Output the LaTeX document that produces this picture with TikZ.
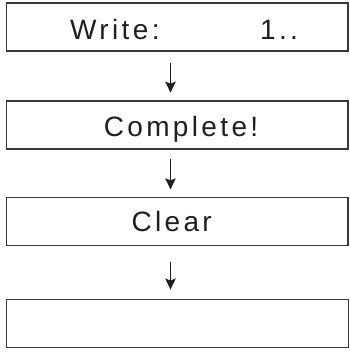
\documentclass[tikz,border=0pt]{standalone}
\usepackage{fontspec}
\setmainfont{Liberation Sans}[LetterSpace=12]
\usetikzlibrary{arrows.meta}
\tikzset{
  box/.style={draw=black!78, line width=1.3pt, inner sep=0pt, minimum width=341.5pt, minimum height=48pt},
  lbl/.style={inner sep=0pt, anchor=base west, text=black!88, font=\fontsize{28}{34}\selectfont},
  arr/.style={draw=black!88, line width=1.2pt, -{Stealth[length=11pt,width=10.5pt,inset=2pt]}}
}
\begin{document}
\begin{tikzpicture}[x=1pt,y=-1pt]
\useasboundingbox (0,0) rectangle (350,354);
\node[box] (b1) at (177.25,27) {};
\node[box] (b2) at (177.25,125) {};
\node[box] (b3) at (177.25,221.3) {};
\node[box] (b4) at (177.5,323.2) {};
\node[lbl] (t1) at (70,39.3) {Write:};
\node[lbl] (t1b) at (260,39.3) {1..};
\node[lbl] (t2) at (103.6,136.7) {Complete!};
\node[lbl] (t3) at (131.3,231.7) {Clear};
\coordinate (ax) at (170.5,0);
\draw[arr, shorten <=11pt, shorten >=7.7pt] (b1.south -| ax) -- (b2.north -| ax);
\draw[arr, shorten <=9pt, shorten >=7.3pt] (b2.south -| ax) -- (b3.north -| ax);
\draw[arr, shorten <=16pt, shorten >=9pt] (b3.south -| ax) -- (b4.north -| ax);
\end{tikzpicture}
\end{document}
